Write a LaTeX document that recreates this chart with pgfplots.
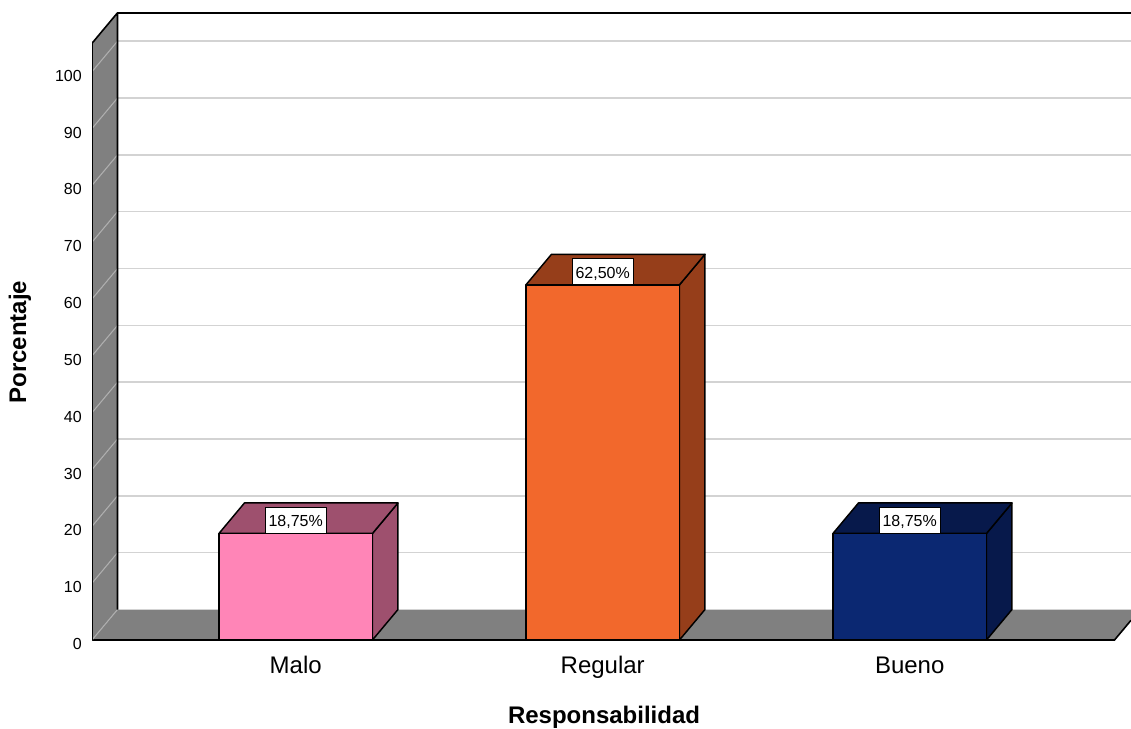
\documentclass[border=0pt]{standalone}
\usepackage{fontspec}
\setmainfont{Liberation Sans}
\usepackage{pgfplots}
\pgfplotsset{compat=1.18}

\definecolor{malo}{RGB}{255,133,183}
\definecolor{malodark}{RGB}{158,80,110}
\definecolor{regular}{RGB}{242,104,44}
\definecolor{regulardark}{RGB}{150,62,26}
\definecolor{bueno}{RGB}{11,40,114}
\definecolor{buenodark}{RGB}{7,25,75}
\definecolor{wallgray}{RGB}{128,128,128}
\definecolor{gridgray}{RGB}{211,211,211}
\definecolor{walllinegray}{RGB}{175,175,175}

% depth offsets of the 3D effect (x in category units, y in percent)
\def\dx{0.0831}
\def\dy{5.367}

% one horizontal gridline on the back wall
\newcommand{\backgrid}[1]{%
  \pgfmathsetmacro\gy{#1+\dy}%
  \edef\tmp{\noexpand\addplot[gridline] coordinates {(-0.5804,\gy) (2.7208,\gy)};}\tmp
}
% one slanted gridline on the left wall
\newcommand{\wallgrid}[1]{%
  \pgfmathsetmacro\gy{#1+\dy}%
  \edef\tmp{\noexpand\addplot[wallline] coordinates {(-0.6635,#1) (-0.5804,\gy)};}\tmp
}
% a 3D bar: #1 position, #2 value, #3 front colour, #4 shaded colour
\newcommand{\cubebar}[4]{%
  \pgfmathsetmacro\xl{#1-0.25}%
  \pgfmathsetmacro\xr{#1+0.25}%
  \pgfmathsetmacro\xlb{#1-0.25+\dx}%
  \pgfmathsetmacro\xrb{#1+0.25+\dx}%
  \pgfmathsetmacro\vb{#2+\dy}%
  \edef\tmp{\noexpand\addplot[barface, fill=#4] coordinates {(\xr,0) (\xrb,\dy) (\xrb,\vb) (\xr,#2)} -- cycle;}\tmp
  \edef\tmp{\noexpand\addplot[barface, fill=#4] coordinates {(\xl,#2) (\xlb,\vb) (\xrb,\vb) (\xr,#2)} -- cycle;}\tmp
  \addplot[barface, fill=#3, ybar, bar width=0.5, bar shift=0pt,
    nodes near coords={\pgfmathprintnumber[fixed,fixed zerofill,precision=2,use comma]{\pgfplotspointmeta}\%}]
    coordinates {(#1,#2)};
}

\begin{document}
\begin{tikzpicture}
\begin{axis}[
  name=ax, at={(0,0)}, anchor=south west,
  scale only axis,
  x=230.25pt, y=4.2623pt,
  xmin=-0.6635, xmax=2.7208, ymin=0, ymax=112.62,
  axis line style={draw=none}, tick style={draw=none}, major tick length=0pt,
  xtick={0,1,2}, xticklabels={Malo,Regular,Bueno},
  ytick={0,10,...,100},
  /pgf/number format/assume math mode=true,
  yticklabel style={font=\fontsize{12}{14}\selectfont, anchor=east, inner sep=0pt, xshift=-7.5pt, yshift=-3pt},
  xticklabel style={font=\fontsize{18}{20}\selectfont, anchor=base, inner sep=0pt, yshift=-24.75pt},
  xlabel={Responsabilidad}, ylabel={Porcentaje},
  xlabel style={at={(axis description cs:0.4928,-0.1297)}, anchor=base, inner sep=0pt,
    font=\bfseries\fontsize{18}{20}\selectfont},
  ylabel style={at={(axis description cs:-0.0693,0.4656)}, anchor=center, inner sep=0pt,
    font=\bfseries\fontsize{18}{20}\selectfont},
  gridline/.style={draw=gridgray, line width=1.1pt, forget plot},
  wallline/.style={draw=walllinegray, line width=0.8pt, forget plot},
  frameline/.style={draw=black, line width=1.2pt, forget plot},
  barface/.style={draw=black, line width=1.1pt, line join=round, forget plot},
  every node near coord/.append style={anchor=south, fill=white, draw=black, line width=0.6pt,
    inner xsep=2.6pt, inner ysep=4.7pt, text height=9.75pt, text depth=0pt,
    font=\fontsize{12}{14}\selectfont},
]
% back wall gridlines
\pgfplotsinvokeforeach{10,20,...,100}{\backgrid{#1}}
% floor
\addplot[draw=none, fill=wallgray, forget plot] coordinates
  {(-0.6635,0) (2.667,0) (2.7208,3.475) (2.7208,5.367) (-0.5804,5.367)} -- cycle;
\addplot[frameline] coordinates {(-0.6635,0) (2.667,0) (2.7208,3.475)};
\backgrid{0}
% left wall
\addplot[draw=none, fill=wallgray, forget plot] coordinates
  {(-0.6635,0) (-0.6635,105) (-0.5804,110.367) (-0.5804,5.367)} -- cycle;
\pgfplotsinvokeforeach{0,10,...,100}{\wallgrid{#1}}
\addplot[frameline, line join=round] coordinates
  {(-0.5804,5.367) (-0.5804,110.367) (-0.6635,105) (-0.6635,0)};
% top edge of the back wall
\addplot[frameline] coordinates {(-0.5804,110.367) (2.7208,110.367)};
% bars
\cubebar{0}{18.75}{malo}{malodark}
\cubebar{1}{62.50}{regular}{regulardark}
\cubebar{2}{18.75}{bueno}{buenodark}
\end{axis}
\path (ax.south west) ++(-69pt,-65.25pt) rectangle (ax.north east);
\end{tikzpicture}
\end{document}
